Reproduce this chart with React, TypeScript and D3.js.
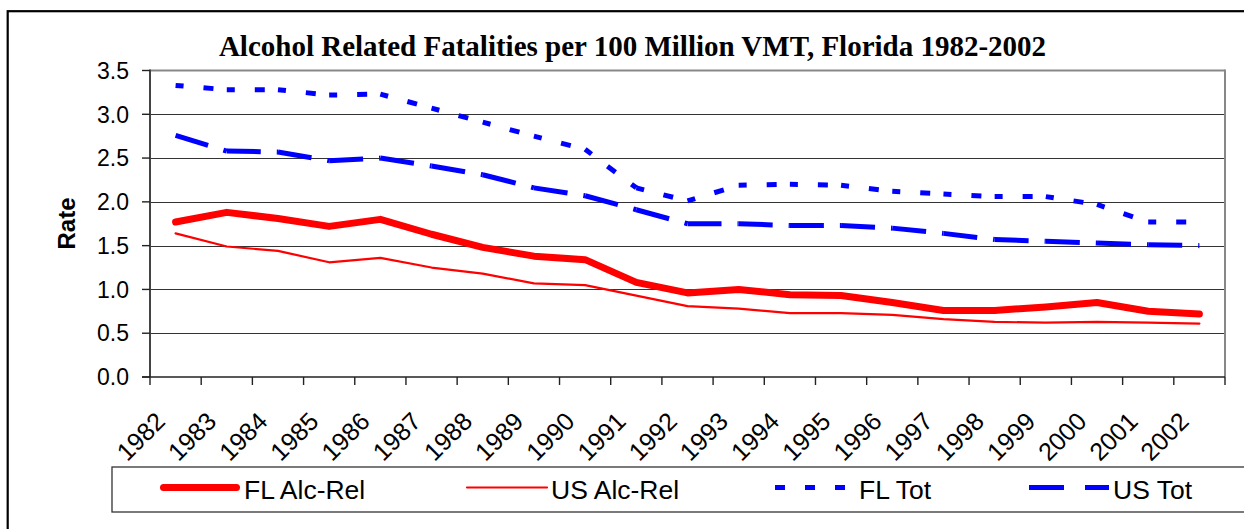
import React from 'react';
import * as d3 from 'd3';

const years = ['1982','1983','1984','1985','1986','1987','1988','1989','1990','1991','1992','1993','1994','1995','1996','1997','1998','1999','2000','2001','2002'];
const flAlcRel = [1.77,1.88,1.81,1.72,1.80,1.63,1.48,1.38,1.34,1.08,0.96,1.00,0.94,0.93,0.85,0.76,0.76,0.80,0.85,0.75,0.72];
const usAlcRel = [1.64,1.49,1.44,1.31,1.36,1.25,1.18,1.07,1.05,0.93,0.81,0.78,0.73,0.73,0.71,0.66,0.63,0.62,0.63,0.62,0.61];
const flTot = [3.33,3.28,3.28,3.22,3.23,3.07,2.91,2.75,2.60,2.16,2.01,2.19,2.20,2.19,2.12,2.09,2.06,2.06,1.97,1.77,1.77];
const usTot = [2.76,2.58,2.57,2.47,2.50,2.41,2.31,2.16,2.07,1.91,1.75,1.75,1.73,1.73,1.70,1.64,1.57,1.55,1.53,1.51,1.50];
const yTicks = [0, 0.5, 1.0, 1.5, 2.0, 2.5, 3.0, 3.5];
const seriesNames = ['FL Alc-Rel', 'US Alc-Rel', 'FL Tot', 'US Tot'];
const titleText = 'Alcohol Related Fatalities per 100 Million VMT, Florida 1982-2002';
const yLabel = 'Rate';

const W = 1244, H = 529;
const PL = 150, PR = 1225, PT = 70.5, PB = 377;
const SANS = '"Liberation Sans", Arial, sans-serif';
const SERIF = '"Liberation Serif", "Times New Roman", serif';

type Style = { color: string; width: number; dash?: string; offset?: number; perSegment?: boolean; cap: string };
const styles: Style[] = [
  { color: '#FF0000', width: 7, cap: 'round' },
  { color: '#FF0000', width: 2.2, cap: 'round' },
  { color: '#0000FF', width: 5, dash: '10,20', offset: 2, perSegment: true, cap: 'butt' },
  { color: '#0000FF', width: 5, dash: '36,16', offset: 2, perSegment: true, cap: 'butt' },
];
const legendX = [160, 467, 775, 1029];

export default function App() {
  const x = d3.scaleBand<string>().domain(years).range([PL, PR]).padding(0);
  const y = d3.scaleLinear().domain([0, 3.5]).range([PB, PT]);
  const cx = (yr: string) => (x(yr) as number) + x.bandwidth() / 2;
  const data = [flAlcRel, usAlcRel, flTot, usTot];
  const line = d3.line<[number, number]>().x(d => d[0]).y(d => d[1]);
  const boundaries = d3.range(years.length + 1).map(i => PL + i * x.bandwidth());

  return (
    <svg width={W} height={H} style={{ position: 'absolute', left: 0, top: 0, background: '#fff' }}>
      <rect x={0} y={0} width={W} height={H} fill="#fff" />
      <rect x={7.7} y={11.2} width={1300} height={600} fill="none" stroke="#000" strokeWidth={2.2} />
      <text x={632.5} y={55.5} textAnchor="middle" fontFamily={SERIF} fontWeight="bold" fontSize={29}>{titleText}</text>
      {/* gridlines */}
      {yTicks.filter(t => t > 0 && t < 3.5).map(t => (
        <line key={'g' + t} x1={PL} x2={PR} y1={Math.round(y(t)) + 0.5} y2={Math.round(y(t)) + 0.5} stroke="#333" strokeWidth={1} />
      ))}
      {/* top/right border */}
      <line x1={PL} x2={PR} y1={PT} y2={PT} stroke="#888" strokeWidth={2} />
      <line x1={PR} x2={PR} y1={PT - 1} y2={PB} stroke="#888" strokeWidth={2} />
      {/* axes */}
      <line x1={PL} x2={PL} y1={PT - 1} y2={PB} stroke="#444" strokeWidth={2} />
      <line x1={PL - 8} x2={PR} y1={PB} y2={PB} stroke="#222" strokeWidth={1.6} />
      {yTicks.map(t => (
        <g key={'yt' + t}>
          <line x1={PL - 8} x2={PL} y1={y(t)} y2={y(t)} stroke="#222" strokeWidth={1.4} />
          <text x={129} y={y(t)} dy="0.36em" textAnchor="end" fontFamily={SANS} fontSize={23}>{t.toFixed(1)}</text>
        </g>
      ))}
      {boundaries.map((b, i) => (
        <line key={'xt' + i} x1={b} x2={b} y1={PB} y2={PB + 8} stroke="#222" strokeWidth={1.4} />
      ))}
      {years.map(yr => (
        <text key={'xl' + yr} transform={`translate(${cx(yr) - 9},${423}) rotate(-45)`} textAnchor="end" fontFamily={SANS} fontSize={25}>{yr}</text>
      ))}
      <text transform={`translate(75,${223.5}) rotate(-90)`} textAnchor="middle" fontFamily={SANS} fontWeight="bold" fontSize={24}>{yLabel}</text>
      {/* series */}
      {data.map((vals, si) => {
        const st = styles[si];
        const pts: [number, number][] = vals.map((v, i) => [cx(years[i]), y(v)]);
        if (st.perSegment) {
          return (
            <g key={'s' + si}>
              {pts.slice(0, -1).map((p, i) => (
                <path key={i} d={line([p, pts[i + 1]]) as string} fill="none" stroke={st.color} strokeWidth={st.width}
                  strokeDasharray={st.dash} strokeDashoffset={st.offset} strokeLinecap={st.cap as any} />
              ))}
            </g>
          );
        }
        return (
          <path key={'s' + si} d={line(pts) as string} fill="none" stroke={st.color} strokeWidth={st.width}
            strokeLinejoin="round" strokeLinecap={st.cap as any} />
        );
      })}
      {/* legend */}
      <rect x={112} y={467} width={1200} height={45} fill="#fff" stroke="#333" strokeWidth={1.3} />
      {seriesNames.map((name, i) => {
        const st = styles[i];
        const lx = legendX[i];
        return (
          <g key={'lg' + i}>
            <line x1={lx + (st.cap === 'round' && st.width > 3 ? 3.5 : 0)} x2={lx + 80 - (st.cap === 'round' && st.width > 3 ? 3.5 : 0)} y1={487.5} y2={487.5}
              stroke={st.color} strokeWidth={st.width} strokeDasharray={st.dash ? (i === 2 ? '10,20' : '35,21') : undefined}
              strokeLinecap={st.cap as any} />
            <text x={lx + 84} y={498.5} fontFamily={SANS} fontSize={26.5}>{name}</text>
          </g>
        );
      })}
    </svg>
  );
}
